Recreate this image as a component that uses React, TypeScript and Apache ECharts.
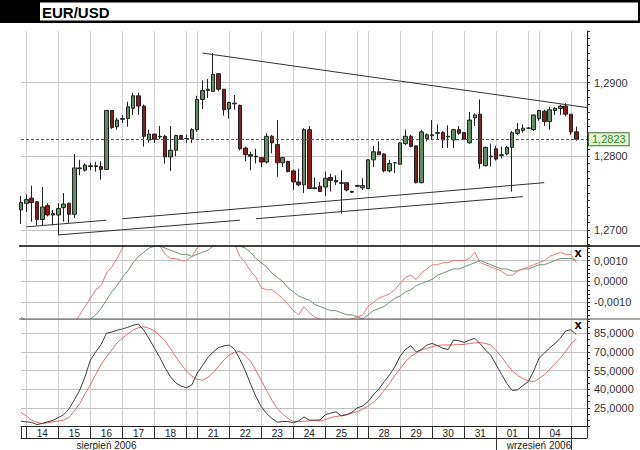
import React, { useEffect, useRef } from 'react';
import * as echarts from 'echarts';

const FONT = 'Liberation Sans, Arial, sans-serif';

// ---- time axis (4-hour slots per day) ----
const dayNames = ['11', '14', '15', '16', '17', '18', '20', '21', '22', '23', '24', '25', '27', '28', '29', '30', '31', '01', '03', '04', '05'];
const daySlots = [1, 6, 6, 6, 6, 6, 2, 6, 6, 6, 6, 6, 2, 6, 6, 6, 6, 6, 2, 6, 4];
const dayLabelled = [false, true, true, true, true, true, false, true, true, true, true, true, false, true, true, true, true, true, false, true, false];
const monthLabelIdx = [16, 97];
const monthLabelText = ['sierpień 2006', 'wrzesień 2006'];
const monthTickIdx = [89, 103];

// ---- price candles: [open, close, low, high] ----
const candles = [
  [1.2727, 1.2737, 1.2708, 1.2746], [1.2736, 1.2741, 1.2724, 1.2748], [1.2743, 1.2737, 1.2711, 1.2760],
  [1.2738, 1.2714, 1.2706, 1.2739], [1.2714, 1.2731, 1.2706, 1.2758], [1.2733, 1.2720, 1.2718, 1.2736],
  [1.2722, 1.2720, 1.2706, 1.2727], [1.2720, 1.2729, 1.2693, 1.2736], [1.2730, 1.2735, 1.2711, 1.2750],
  [1.2736, 1.2721, 1.2709, 1.2737], [1.2721, 1.2784, 1.2716, 1.2803], [1.2783, 1.2784, 1.2774, 1.2795],
  [1.2781, 1.2788, 1.2779, 1.2790], [1.2786, 1.2787, 1.2781, 1.2791], [1.2787, 1.2786, 1.2779, 1.2792],
  [1.2786, 1.2782, 1.2768, 1.2793], [1.2782, 1.2862, 1.2781, 1.2863], [1.2862, 1.2839, 1.2837, 1.2862],
  [1.2840, 1.2849, 1.2836, 1.2852], [1.2850, 1.2851, 1.2845, 1.2856], [1.2851, 1.2867, 1.2840, 1.2874],
  [1.2865, 1.2882, 1.2856, 1.2886], [1.2882, 1.2868, 1.2856, 1.2886], [1.2868, 1.2827, 1.2813, 1.2870],
  [1.2822, 1.2830, 1.2818, 1.2836], [1.2830, 1.2823, 1.2818, 1.2830], [1.2826, 1.2827, 1.2823, 1.2841],
  [1.2827, 1.2799, 1.2790, 1.2829], [1.2799, 1.2808, 1.2780, 1.2841], [1.2808, 1.2828, 1.2800, 1.2829],
  [1.2828, 1.2823, 1.2822, 1.2829], [1.2824, 1.2824, 1.2818, 1.2829], [1.2824, 1.2836, 1.2818, 1.2838],
  [1.2836, 1.2877, 1.2833, 1.2882], [1.2877, 1.2889, 1.2864, 1.2903], [1.2889, 1.2891, 1.2879, 1.2905],
  [1.2888, 1.2911, 1.2888, 1.2940], [1.2912, 1.2891, 1.2888, 1.2912], [1.2891, 1.2863, 1.2855, 1.2891],
  [1.2864, 1.2873, 1.2851, 1.2874], [1.2871, 1.2872, 1.2863, 1.2883], [1.2869, 1.2810, 1.2808, 1.2870],
  [1.2811, 1.2802, 1.2793, 1.2813], [1.2802, 1.2800, 1.2781, 1.2806], [1.2800, 1.2799, 1.2790, 1.2810],
  [1.2798, 1.2792, 1.2785, 1.2798], [1.2792, 1.2827, 1.2790, 1.2831], [1.2827, 1.2818, 1.2804, 1.2829],
  [1.2816, 1.2791, 1.2772, 1.2849], [1.2791, 1.2798, 1.2785, 1.2799], [1.2793, 1.2779, 1.2778, 1.2793],
  [1.2780, 1.2765, 1.2754, 1.2782], [1.2765, 1.2761, 1.2759, 1.2783], [1.2761, 1.2836, 1.2750, 1.2838],
  [1.2836, 1.2756, 1.2756, 1.2841], [1.2756, 1.2757, 1.2755, 1.2771], [1.2759, 1.2752, 1.2752, 1.2765],
  [1.2758, 1.2770, 1.2746, 1.2779], [1.2771, 1.2767, 1.2752, 1.2776], [1.2767, 1.2765, 1.2761, 1.2774],
  [1.2764, 1.2763, 1.2722, 1.2781], [1.2764, 1.2754, 1.2752, 1.2764], [1.2752, 1.2751, 1.2750, 1.2753],
  [1.2760, 1.2759, 1.2758, 1.2761], [1.2757, 1.2760, 1.2754, 1.2770], [1.2756, 1.2795, 1.2756, 1.2796],
  [1.2795, 1.2806, 1.2785, 1.2814], [1.2806, 1.2802, 1.2802, 1.2820], [1.2803, 1.2780, 1.2778, 1.2804],
  [1.2780, 1.2790, 1.2778, 1.2795], [1.2791, 1.2791, 1.2777, 1.2792], [1.2789, 1.2818, 1.2788, 1.2819],
  [1.2817, 1.2827, 1.2815, 1.2836], [1.2827, 1.2813, 1.2812, 1.2829], [1.2814, 1.2764, 1.2763, 1.2814],
  [1.2764, 1.2833, 1.2763, 1.2836], [1.2824, 1.2829, 1.2820, 1.2831], [1.2828, 1.2829, 1.2823, 1.2849],
  [1.2831, 1.2832, 1.2823, 1.2843], [1.2832, 1.2822, 1.2811, 1.2834], [1.2826, 1.2827, 1.2811, 1.2842],
  [1.2822, 1.2836, 1.2811, 1.2837], [1.2836, 1.2831, 1.2829, 1.2841], [1.2832, 1.2823, 1.2822, 1.2833],
  [1.2818, 1.2849, 1.2817, 1.2860], [1.2852, 1.2856, 1.2841, 1.2858], [1.2857, 1.2790, 1.2783, 1.2877],
  [1.2787, 1.2812, 1.2786, 1.2813], [1.2799, 1.2800, 1.2786, 1.2817], [1.2810, 1.2796, 1.2794, 1.2814],
  [1.2801, 1.2802, 1.2797, 1.2813], [1.2803, 1.2812, 1.2801, 1.2814], [1.2812, 1.2832, 1.2752, 1.2834],
  [1.2831, 1.2836, 1.2829, 1.2845], [1.2835, 1.2838, 1.2832, 1.2843], [1.2838, 1.2838, 1.2837, 1.2839],
  [1.2836, 1.2856, 1.2834, 1.2856], [1.2851, 1.2862, 1.2848, 1.2863], [1.2861, 1.2847, 1.2841, 1.2863],
  [1.2847, 1.2863, 1.2836, 1.2867], [1.2862, 1.2865, 1.2856, 1.2867], [1.2865, 1.2868, 1.2856, 1.2870],
  [1.2868, 1.2857, 1.2854, 1.2872], [1.2857, 1.2833, 1.2829, 1.2857], [1.2833, 1.2823, 1.2821, 1.2840],
];
const lastPrice = 1.2823;

// trend lines: [[slotIndex, price], [slotIndex, price]]
const trendLines = [
  [[34, 1.2940], [106, 1.2866]],
  [[1, 1.2704], [16, 1.2713]],
  [[19, 1.2715], [98, 1.2764]],
  [[7, 1.2693], [41, 1.2713]],
  [[44, 1.2715], [94, 1.2745]],
];

// ---- MACD panel ----
const macdLine = [
  -0.0026, -0.0026, -0.0026, -0.0028, -0.0027, -0.0028, -0.0029, -0.0029, -0.0028, -0.0028,
  -0.0020, -0.0016, -0.0012, -0.0008, -0.0004, -0.0002, 0.0004, 0.0007, 0.0011, 0.0016,
  0.0020, 0.0023, 0.0024, 0.0022, 0.0020, 0.0019, 0.0017, 0.0013, 0.0011, 0.0011,
  0.0010, 0.0010, 0.0012, 0.0016, 0.0019, 0.0022, 0.0025, 0.0025, 0.0023, 0.0021,
  0.0018, 0.0012, 0.0009, 0.0005, 0.0002, -0.0003, -0.0004, -0.0004, -0.0006, -0.0008,
  -0.0011, -0.0014, -0.0016, -0.0012, -0.0015, -0.0017, -0.0018, -0.0019, -0.0019, -0.0018,
  -0.0019, -0.0019, -0.0018, -0.0017, -0.0016, -0.0012, -0.0010, -0.0008, -0.0007, -0.0006,
  -0.0004, -0.0001, 0.0002, 0.0003, 0.0001, 0.0004, 0.0006, 0.0008, 0.0008, 0.0009,
  0.0009, 0.0010, 0.0010, 0.0010, 0.0011, 0.0014, 0.0009, 0.0008, 0.0007, 0.0006,
  0.0005, 0.0003, 0.0003, 0.0005, 0.0006, 0.0007, 0.0008, 0.0009, 0.0010, 0.0012,
  0.0013, 0.0014, 0.0013, 0.0013, 0.0009,
];
const macdSignal = [
  -0.0017, -0.0019, -0.0021, -0.0022, -0.0023, -0.0024, -0.0025, -0.0026, -0.0026, -0.0025,
  -0.0024, -0.0022, -0.0020, -0.0018, -0.0016, -0.0013, -0.0009, -0.0005, -0.0002, 0.0002,
  0.0005, 0.0009, 0.0012, 0.0014, 0.0016, 0.0017, 0.0017, 0.0016, 0.0015, 0.0014,
  0.0013, 0.0013, 0.0012, 0.0013, 0.0014, 0.0015, 0.0017, 0.0018, 0.0019, 0.0019,
  0.0018, 0.0017, 0.0016, 0.0014, 0.0011, 0.0009, 0.0007, 0.0004, 0.0002, 0.0000,
  -0.0003, -0.0005, -0.0007, -0.0008, -0.0009, -0.0011, -0.0012, -0.0013, -0.0014, -0.0014,
  -0.0015, -0.0016, -0.0016, -0.0017, -0.0018, -0.0016, -0.0014, -0.0013, -0.0012, -0.0010,
  -0.0008, -0.0007, -0.0005, -0.0004, -0.0002, -0.0001, 0.0000, 0.0001, 0.0003, 0.0004,
  0.0005, 0.0006, 0.0006, 0.0007, 0.0008, 0.0009, 0.0010, 0.0009, 0.0008, 0.0007,
  0.0006, 0.0006, 0.0005, 0.0005, 0.0006, 0.0006, 0.0007, 0.0008, 0.0008, 0.0009,
  0.0010, 0.0011, 0.0011, 0.0011, 0.0010,
];

// ---- Stochastic panel ----
const stochK = [
  14.3, 13.7, 13.3, 11.5, 12.5, 13.8, 15.0, 17.2, 19.5, 24.2,
  31.5, 39.3, 50.0, 63.5, 70.0, 76.0, 85.0, 86.0, 87.5, 88.5,
  89.8, 91.5, 92.5, 87.5, 80.5, 73.0, 65.5, 57.0, 50.0, 45.0,
  42.5, 41.2, 43.5, 53.0, 59.0, 65.5, 70.0, 73.5, 74.8, 75.6,
  72.0, 64.0, 55.0, 44.0, 34.0, 26.0, 20.5, 16.5, 13.5, 14.0,
  14.0, 13.0, 14.5, 17.7, 15.1, 15.1, 15.3, 19.5, 20.8, 21.8,
  18.5, 19.5, 21.5, 25.0, 26.5, 30.0, 35.5, 40.0, 46.0, 51.4,
  58.0, 66.5, 72.0, 75.0, 70.0, 72.0, 75.5, 76.8, 75.0, 73.0,
  72.0, 79.5, 79.0, 77.7, 79.5, 81.0, 76.5, 71.5, 67.2, 59.5,
  52.0, 44.5, 39.0, 39.5, 43.0, 46.0, 54.5, 64.8, 69.0, 73.2,
  76.8, 81.0, 86.9, 87.8, 84.0,
];
const stochD = [
  21.3, 18.5, 15.1, 13.3, 12.4, 13.0, 13.7, 14.4, 15.2, 17.3,
  22.5, 28.5, 36.5, 43.5, 52.0, 60.0, 66.0, 71.5, 77.5, 81.0,
  84.5, 87.7, 89.5, 90.2, 89.0, 87.0, 83.0, 79.0, 72.5, 66.0,
  60.0, 54.5, 50.5, 48.0, 47.3, 49.5, 53.5, 58.5, 63.5, 67.5,
  69.5, 70.5, 67.0, 62.5, 55.0, 47.0, 39.0, 31.0, 24.5, 20.0,
  16.5, 14.0, 14.0, 14.2, 14.5, 14.7, 14.4, 15.5, 17.2, 18.0,
  18.8, 19.5, 20.8, 22.0, 24.0, 26.5, 29.5, 33.5, 39.0, 44.5,
  51.0, 56.5, 62.0, 66.5, 69.0, 71.5, 73.0, 74.2, 75.2, 75.6,
  75.6, 75.6, 75.9, 76.1, 76.8, 77.3, 77.6, 76.8, 75.6, 71.0,
  66.0, 60.0, 55.0, 51.0, 48.5, 46.8, 46.0, 48.5, 51.5, 55.8,
  60.5, 65.0, 70.5, 76.5, 80.5,
];

// ---- derived axis helpers ----
const categories: string[] = [];
const dayStarts: number[] = [];
const dayLabelAt: Record<number, string> = {};
dayNames.forEach((d, i) => {
  const start = categories.length;
  dayStarts.push(start);
  if (dayLabelled[i]) dayLabelAt[start + Math.floor(daySlots[i] / 2)] = d;
  for (let k = 0; k < daySlots[i]; k++) categories.push(d + '-' + k);
});
const lastIdx = categories.length - 1;
const splitSet = new Set(dayStarts.slice(1));
const tickSet = new Set([...dayStarts, lastIdx]);
const monthTickSet = new Set(monthTickIdx);
const monthLabelAt: Record<number, string> = {};
monthLabelIdx.forEach((idx, i) => { monthLabelAt[idx] = monthLabelText[i]; });

const comma = (s: string) => s.replace('.', ',');
const fmtPrice = (v: number) => { const k = Math.round(v * 1000); return k % 10 === 0 ? comma((k / 1000).toFixed(4)) : ''; };
const fmtMacd = (v: number) => { const k = Math.round(v * 10000); return k % 10 === 0 ? comma((k / 10000).toFixed(4)) : ''; };
const fmtStoch = (v: number) => { const k = Math.round(v); return k >= 25 && k <= 85 && (k - 25) % 15 === 0 ? comma(k.toFixed(4)) : ''; };

const gridColor = '#cfcfcf';
const hGridColor = '#c2c2c2';
const NONE = 'rgba(0,0,0,0)';
// colour cycle for the minor-tick split lines: only the labelled ticks get a visible line
const cycle = (len: number, at: number) => Array.from({ length: len }, (_, i) => (i === at ? hGridColor : NONE));

function baseX(gridIndex: number) {
  return {
    type: 'category', gridIndex, data: categories, boundaryGap: false,
    axisLine: { show: false }, axisTick: { show: false }, axisLabel: { show: false },
    splitLine: { show: true, interval: (i: number) => splitSet.has(i), lineStyle: { color: gridColor, width: 1 } },
  };
}
function baseY(gridIndex: number, min: number, max: number, interval: number, fmt: (v: number) => string, colors: string[]) {
  return {
    type: 'value', gridIndex, position: 'right', min, max, interval,
    axisLine: { show: true, lineStyle: { color: '#111', width: 1 } },
    axisTick: { show: true, length: 3, lineStyle: { color: '#333' } },
    axisLabel: { margin: 7, fontSize: 11, color: '#333', fontFamily: FONT, formatter: fmt },
    splitLine: { show: true, lineStyle: { color: colors, width: 1 } },
  };
}

export default function App() {
  const ref = useRef<HTMLDivElement>(null);
  useEffect(() => {
    if (!ref.current) return;
    const chart = echarts.init(ref.current, null, { renderer: 'svg' });
    const option: any = {
      animation: false,
      backgroundColor: '#fff',
      textStyle: { fontFamily: FONT },
      grid: [
        { left: 21, right: 53, top: 31, height: 213.5 },
        { left: 21, right: 53, top: 246, height: 73 },
        { left: 21, right: 53, top: 319, height: 107.5 },
      ],
      xAxis: [
        baseX(0),
        baseX(1),
        {
          ...baseX(2),
          axisLine: { show: true, lineStyle: { color: '#222', width: 1 } },
          axisTick: { show: true, interval: (i: number) => tickSet.has(i), length: 11.5, lineStyle: { color: '#333' } },
          axisLabel: {
            show: true, interval: (i: number) => dayLabelAt[i] !== undefined,
            formatter: (_v: string, i: number) => dayLabelAt[i] || '',
            margin: 2, fontSize: 10, color: '#222', fontFamily: FONT,
          },
        },
        {
          type: 'category', gridIndex: 2, data: categories, boundaryGap: false, position: 'bottom', offset: 11.5,
          axisLine: { show: true, lineStyle: { color: '#222', width: 1 } },
          axisTick: { show: true, interval: (i: number) => monthTickSet.has(i), length: 12, lineStyle: { color: '#333' } },
          axisLabel: {
            show: true, interval: (i: number) => monthLabelAt[i] !== undefined,
            formatter: (_v: string, i: number) => monthLabelAt[i] || '',
            margin: 2, fontSize: 10, color: '#222', fontFamily: FONT,
          },
          splitLine: { show: false },
        },
      ],
      yAxis: [
        baseY(0, 1.268, 1.297, 0.001, fmtPrice, cycle(10, 2)),
        baseY(1, -0.0018, 0.0017, 0.0002, fmtMacd, cycle(5, 4)),
        baseY(2, 10, 96.5, 5, fmtStoch, cycle(3, 0)),
      ],
      series: [
        {
          type: 'candlestick', xAxisIndex: 0, yAxisIndex: 0, data: candles, barWidth: 4, clip: false, z: 3,
          itemStyle: { color: '#5f8e62', color0: '#8b1a1a', borderColor: '#222', borderColor0: '#222', borderWidth: 1 },
          markLine: {
            silent: true, symbol: ['none', 'none'], animation: false, precision: 6,
            label: { show: false },
            lineStyle: { color: '#333', type: 'solid', width: 1 },
            data: trendLines.map((seg) => [
              { coord: [categories[seg[0][0]], seg[0][1]] },
              { coord: [categories[seg[1][0]], seg[1][1]] },
            ]),
          },
        },
        {
          // carrier for the last-price marker (line itself hidden)
          type: 'line', xAxisIndex: 0, yAxisIndex: 0, data: candles.map((c) => c[1]), silent: true, z: 4,
          symbol: 'none', showSymbol: false, lineStyle: { width: 0, opacity: 0 }, itemStyle: { color: '#e01f1f' },
          markLine: {
            silent: true, symbol: ['none', 'none'], animation: false, precision: 6,
            lineStyle: { color: '#e01f1f', type: [3, 2], width: 1.2, opacity: 1 },
            label: {
              show: true, position: 'end', distance: 2, formatter: comma(lastPrice.toFixed(4)),
              fontSize: 11, color: '#2f8a2a', fontFamily: FONT,
              backgroundColor: '#e6f3d2', borderColor: '#3f6f35', borderWidth: 1, padding: [1, 3, 0, 3],
            },
            data: [{ yAxis: lastPrice }],
          },
        },
        {
          type: 'line', xAxisIndex: 1, yAxisIndex: 1, data: macdSignal, symbol: 'none', showSymbol: false,
          lineStyle: { color: '#6f9274', width: 1 },
        },
        {
          type: 'line', xAxisIndex: 1, yAxisIndex: 1, data: macdLine, symbol: 'none', showSymbol: false,
          lineStyle: { color: '#e67a7a', width: 1 },
        },
        {
          type: 'line', xAxisIndex: 2, yAxisIndex: 2, data: stochD, symbol: 'none', showSymbol: false,
          lineStyle: { color: '#e46a6a', width: 1 },
        },
        {
          type: 'line', xAxisIndex: 2, yAxisIndex: 2, data: stochK, symbol: 'none', showSymbol: false,
          lineStyle: { color: '#3c3c3c', width: 1 },
        },
      ],
      graphic: [
        { type: 'rect', shape: { x: 0, y: 0, width: 640, height: 23 }, style: { fill: '#000' }, silent: true },
        { type: 'rect', shape: { x: 40, y: 2.5, width: 598, height: 18 }, style: { fill: '#fff' }, silent: true },
        {
          type: 'text', x: 42, y: 12, silent: true,
          style: { text: 'EUR/USD', fill: '#000', font: 'bold 15px ' + FONT, verticalAlign: 'middle' },
        },
        { type: 'line', shape: { x1: 19, y1: 246, x2: 640, y2: 246 }, style: { stroke: '#000', lineWidth: 1.5 }, silent: true, z: 10 },
        { type: 'line', shape: { x1: 19, y1: 319, x2: 640, y2: 319 }, style: { stroke: '#555', lineWidth: 1 }, silent: true, z: 10 },
        {
          type: 'text', x: 578, y: 252, silent: true, z: 10,
          style: { text: 'x', fill: '#000', font: 'bold 13px ' + FONT, align: 'center', verticalAlign: 'middle' },
        },
        {
          type: 'text', x: 578, y: 324, silent: true, z: 10,
          style: { text: 'x', fill: '#000', font: 'bold 13px ' + FONT, align: 'center', verticalAlign: 'middle' },
        },
      ],
    };
    chart.setOption(option);
    return () => chart.dispose();
  }, []);
  return <div ref={ref} style={{ position: 'absolute', left: 0, top: 0, width: 640, height: 450, background: '#fff' }} />;
}
